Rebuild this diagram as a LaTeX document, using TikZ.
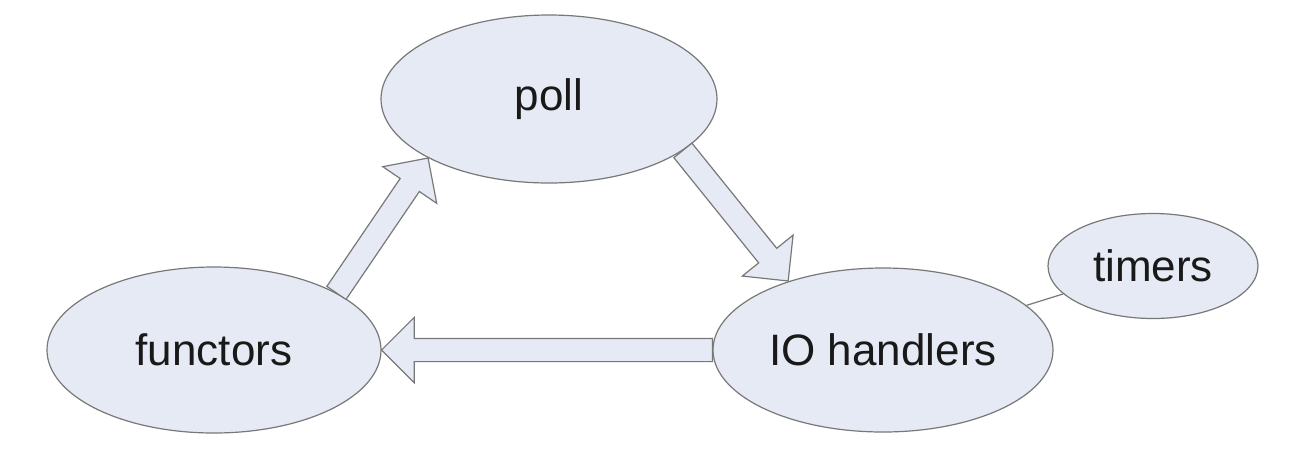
\documentclass[tikz,border=0pt]{standalone}
\usepackage{fontspec}
\setmainfont{Liberation Sans}
\usetikzlibrary{shapes.geometric,shapes.arrows,calc}
\definecolor{nodefill}{RGB}{230,234,244}
\definecolor{edge}{RGB}{120,120,120}
\definecolor{txt}{RGB}{25,25,25}
\tikzset{
  bubble/.style={ellipse, draw=edge, fill=nodefill, line width=0.6pt, inner sep=0pt, text=txt,
    font=\fontsize{22}{26}\selectfont},
  blockarrow/.style={single arrow, draw=edge, fill=nodefill, line width=0.6pt,
    inner xsep=0pt, inner ysep=5.5pt, single arrow head extend=10.5pt, single arrow head indent=0pt,
    single arrow tip angle=90, outer sep=0pt},
  link/.style={draw=edge, line width=0.6pt}
}
\newcommand{\fatarrow}[2]{%
  \path let \p1=(#1), \p2=(#2), \n1={atan2(\y2-\y1,\x2-\x1)}, \n2={veclen(\x2-\x1,\y2-\y1)} in
    node[blockarrow, rotate=\n1, minimum height=\n2, anchor=tail] at (\p1) {};}
\begin{document}
\begin{tikzpicture}[x=0.5pt,y=-0.5pt]
\fill[white] (0,0) rectangle (1298,468);
\useasboundingbox (0,0) rectangle (1298,468);
\node[bubble, minimum width=168pt, minimum height=84pt] (poll) at (549,99) {poll};
\node[bubble, minimum width=167pt, minimum height=83pt] (fun) at (214,350) {functors};
\node[bubble, minimum width=170pt, minimum height=82pt] (io) at (883,350) {IO handlers};
\node[bubble, minimum width=105pt, minimum height=52.5pt] (tim) at (1153,266) {timers};
\draw[link] (io) -- (tim);
\fatarrow{io.west}{fun.east}
\fatarrow{fun.25}{poll.206}
\fatarrow{poll.-21}{io.144}
\end{tikzpicture}
\end{document}
